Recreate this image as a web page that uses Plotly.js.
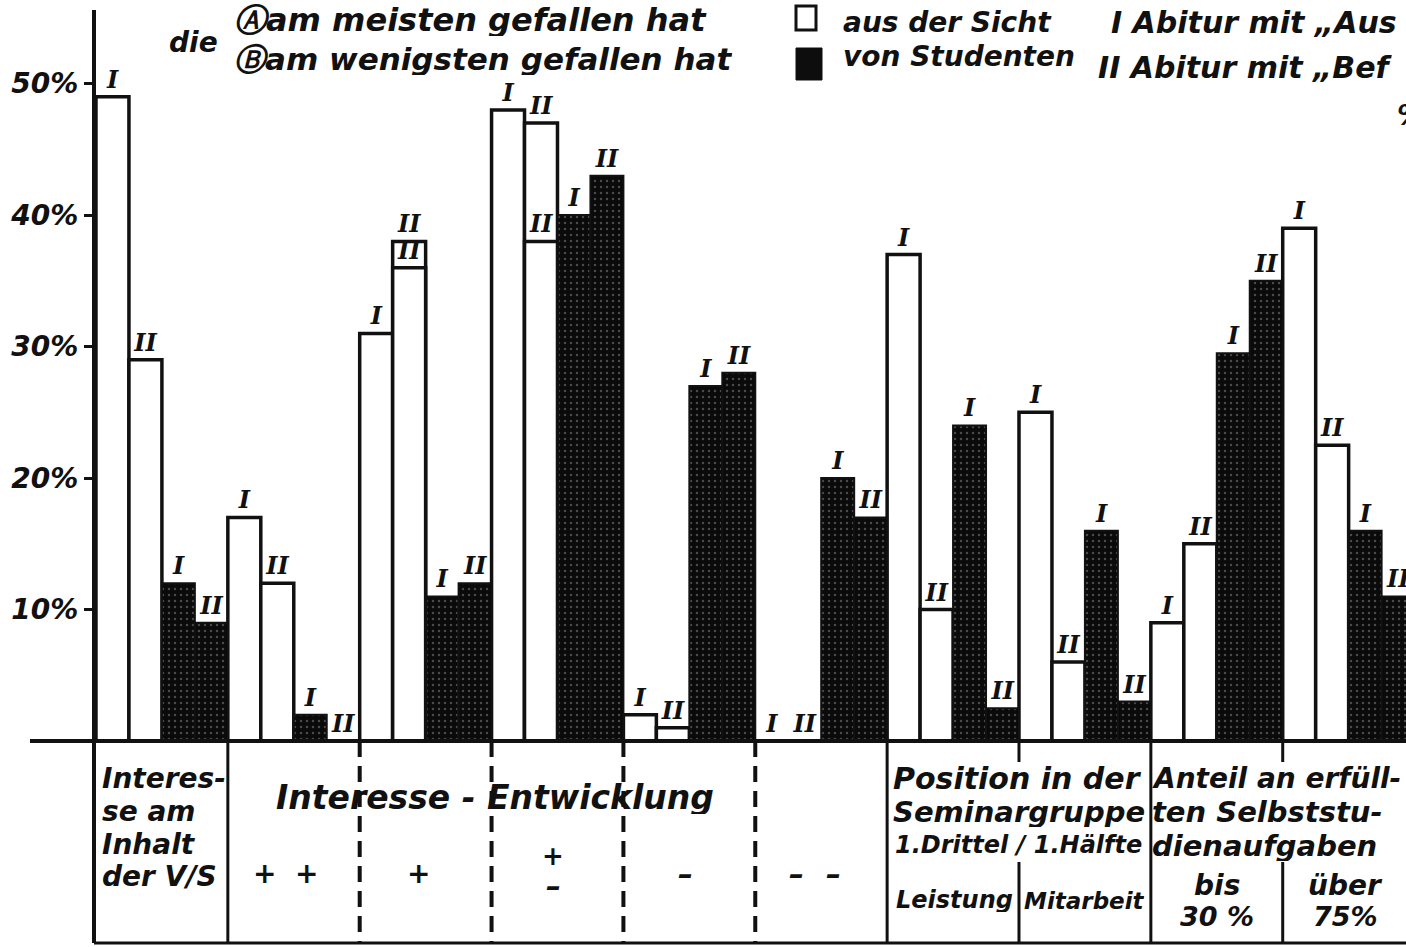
<!DOCTYPE html>
<html>
<head>
<meta charset="utf-8">
<script src="https://cdn.plot.ly/plotly-3.0.1.min.js"></script>
<style>html,body{margin:0;padding:0;background:#fff;overflow:hidden}#chart{width:1406px;height:947px}</style>
</head>
<body>
<div id="chart"></div>
<script>
// ---- data (percent) ----
const groups = ['Interesse am Inhalt der V/S', '+ +', '+', '±', '−', '− −',
                'Leistung (1. Drittel)', 'Mitarbeit (1. Hälfte)', 'bis 30 %', 'über 75 %'];
const whiteI  = [49, 17, 31, 48, 2, 0, 37, 25, 9, 39];     // A am meisten gefallen, Abitur I
const whiteII = [29, 12, 38, 47, 1, 0, 10, 6, 15, 22.5];   // A am meisten gefallen, Abitur II
const blackI  = [12, 2, 11, 40, 27, 20, 24, 16, 29.5, 16]; // B am wenigsten gefallen, Abitur I
const blackII = [9, 0, 12, 43, 28, 17, 2.5, 3, 35, 11];    // B am wenigsten gefallen, Abitur II
const whiteIIinner = [null, null, 36, 38, null, null, null, null, null, null]; // inner marks in II bars
const yTicks = [10, 20, 30, 40, 50];
const yTickText = ['10%', '20%', '30%', '40%', '50%'];
const labI = 'I', labII = 'II';

// ---- helpers for layout ----
const W = 1406, H = 947, L = 94, T = 10, B = 206;
const PW = W - L, PH = H - T - B;
const px = x => (x - L) / PW;
const py = y => (H - B - y) / PH;
const FONT = 'DejaVu Sans';
const ink = '#111';

const pos = k => groups.map((_, g) => 4 * g + k);
const labelFont = {family: 'DejaVu Serif', size: 24, color: ink, style: 'italic', weight: 700};
const whiteMarker = {color: '#fff', line: {color: ink, width: 3.5}};
const blackMarker = {color: '#0d0d0d', line: {color: ink, width: 2},
  pattern: {shape: '.', fgcolor: '#4a4a4a', bgcolor: '#0a0a0a', size: 6, solidity: 0.14}};

function barTrace(k, vals, lab, marker) {
  return {type: 'bar', x: pos(k), y: vals, width: 1, marker: marker,
    text: vals.map(() => lab), textposition: 'outside', textfont: labelFont,
    constraintext: 'none', cliponaxis: false, hoverinfo: 'skip', showlegend: false};
}
const innerX = [], innerY = [];
whiteIIinner.forEach((v, g) => { if (v !== null) { innerX.push(4 * g + 1); innerY.push(v); } });

const traces = [
  barTrace(0, whiteI, labI, whiteMarker),
  barTrace(1, whiteII, labII, whiteMarker),
  barTrace(2, blackI, labI, blackMarker),
  barTrace(3, blackII, labII, blackMarker),
  {type: 'bar', x: innerX, y: innerY, width: 1, marker: whiteMarker,
   text: innerX.map(() => labII), textposition: 'outside', textfont: labelFont,
   constraintext: 'none', cliponaxis: false, hoverinfo: 'skip', showlegend: false}
];

// ---- table lines under the axis ----
const shapes = [];
function vline(xData, y0, y1, dash, width) {
  shapes.push({type: 'line', xref: 'x', yref: 'paper', x0: xData, x1: xData, y0: py(y0), y1: py(y1),
    line: {color: ink, width: width || 3, dash: dash || 'solid'}});
}
vline(3.5, 741, 943);
[7.5, 11.5, 15.5, 19.5].forEach(x => vline(x, 741, 943, '16px,9px', 4));
vline(23.5, 741, 943);
vline(27.5, 741, 762); vline(27.5, 862, 943);
vline(31.5, 741, 943);
vline(35.5, 741, 762); vline(35.5, 862, 943);
// bottom line, baseline, y axis line
shapes.push({type: 'line', xref: 'paper', yref: 'paper', x0: 0, x1: 1, y0: py(943), y1: py(943), line: {color: ink, width: 3}});
shapes.push({type: 'line', xref: 'paper', yref: 'paper', x0: px(30), x1: 1, y0: 0, y1: 0, line: {color: ink, width: 4}});
shapes.push({type: 'line', xref: 'paper', yref: 'paper', x0: 0, x1: 0, y0: py(10), y1: py(943), line: {color: ink, width: 4}});
// legend squares
shapes.push({type: 'rect', xref: 'paper', yref: 'paper', x0: px(796), x1: px(816), y0: py(30), y1: py(6), line: {color: ink, width: 3}, fillcolor: '#fff'});
shapes.push({type: 'rect', xref: 'paper', yref: 'paper', x0: px(796), x1: px(822), y0: py(80), y1: py(48), line: {color: ink, width: 1}, fillcolor: '#0d0d0d'});

// ---- text ----
const ann = [];
function txt(s, x, y, size, xanchor) {
  ann.push({text: s, xref: 'paper', yref: 'paper', x: px(x), y: py(y), showarrow: false,
    xanchor: xanchor || 'left', yanchor: 'middle', align: xanchor || 'left',
    height: Math.round(size * 1.02), borderpad: 0,
    font: {family: FONT, size: size, color: ink, style: 'italic', weight: 700}});
}
// header
txt('die', 168, 42, 28);
txt('Ⓐam meisten gefallen hat', 233, 20, 32);
txt('Ⓑam wenigsten gefallen hat', 233, 59, 31);
txt('aus der Sicht', 842, 22, 28);
txt('von Studenten', 842, 57, 28);
txt('I Abitur mit „Aus', 1110, 22, 30);
txt('II Abitur mit „Bef', 1097, 68, 30);
txt('%', 1396, 115, 28);
// table
txt('Interes-', 101, 778, 28);
txt('se am', 101, 811, 28);
txt('Inhalt', 101, 844, 28);
txt('der V/S', 101, 877, 28);
txt('Interesse - Entwicklung', 495, 797, 33, 'center');
txt('+', 264, 873, 28, 'center');
txt('+', 306, 873, 28, 'center');
txt('+', 418, 873, 28, 'center');
txt('+', 553, 855, 26, 'center');
txt('–', 553, 885, 30, 'center');
txt('–', 685, 873, 30, 'center');
txt('–', 797, 873, 30, 'center');
txt('–', 833, 873, 30, 'center');
txt('Position in der', 892, 778, 30);
txt('Seminargruppe', 892, 812, 29);
txt('1.Drittel / 1.Hälfte', 1018, 845, 24, 'center');
txt('Leistung', 954, 900, 24, 'center');
txt('Mitarbeit', 1084, 900, 23, 'center');
txt('Anteil an erfüll-', 1151, 778, 28);
txt('ten Selbststu-', 1151, 812, 29);
txt('dienaufgaben', 1151, 846, 29);
txt('bis', 1217, 885, 28, 'center');
txt('30 %', 1217, 916, 27, 'center');
txt('über', 1345, 885, 28, 'center');
txt('75%', 1345, 916, 27, 'center');

const layout = {
  width: W, height: H,
  margin: {l: L, r: 0, t: T, b: B, pad: 0},
  paper_bgcolor: '#fff', plot_bgcolor: '#fff',
  barmode: 'overlay', bargap: 0,
  showlegend: false,
  xaxis: {range: [-0.56, 39.24], visible: false, fixedrange: true},
  yaxis: {range: [0, 55.6], tickvals: yTicks, ticktext: yTickText, ticks: 'outside',
    ticklen: 9, tickwidth: 3, tickcolor: ink, showgrid: false, zeroline: false, showline: false,
    tickfont: {family: FONT, size: 28, color: ink, style: 'italic', weight: 700}, fixedrange: true},
  shapes: shapes,
  annotations: ann,
  font: {family: FONT, color: ink}
};
Plotly.newPlot('chart', traces, layout, {displayModeBar: false, staticPlot: true});
</script>
</body>
</html>
